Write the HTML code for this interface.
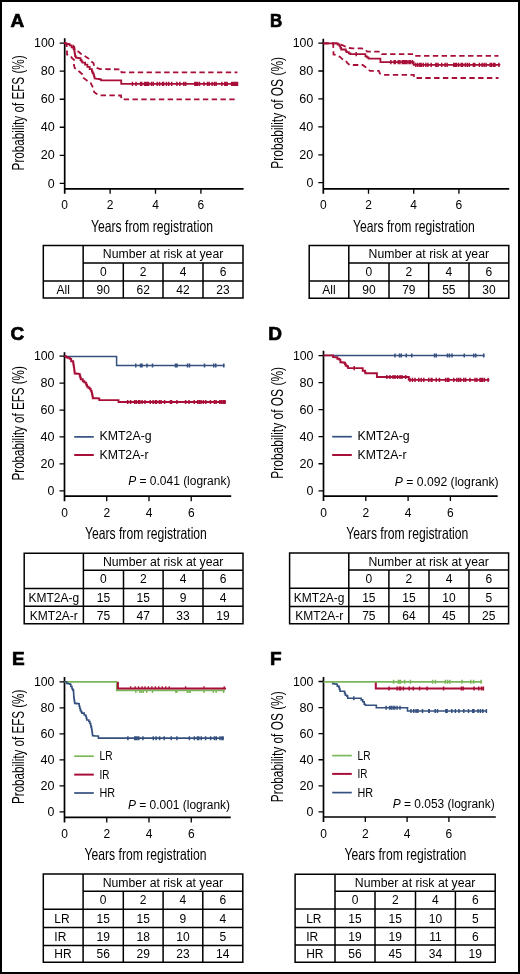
<!DOCTYPE html>
<html><head><meta charset="utf-8"><style>
html,body{margin:0;padding:0;background:#fff;width:520px;height:974px;overflow:hidden;position:relative;font-family:"Liberation Sans",sans-serif;}
</style></head><body>
<svg width="520" height="974" viewBox="0 0 520 974" style="position:absolute;left:0;top:0;will-change:transform">
<g font-family='"Liberation Sans", sans-serif'>
<rect x="1" y="1" width="518" height="972" fill="none" stroke="#000" stroke-width="2"/>
<text x="10.4" y="26.9" font-size="19" text-anchor="start" font-weight="bold" fill="#000" stroke="#000" stroke-width="0.7">A</text>
<text x="269.9" y="26.9" font-size="19" text-anchor="start" textLength="12.2" lengthAdjust="spacingAndGlyphs" font-weight="bold" fill="#000" stroke="#000" stroke-width="0.7">B</text>
<text x="10.4" y="339.9" font-size="19" text-anchor="start" font-weight="bold" fill="#000" stroke="#000" stroke-width="0.7">C</text>
<text x="268.2" y="339.6" font-size="19" text-anchor="start" font-weight="bold" fill="#000" stroke="#000" stroke-width="0.7">D</text>
<text x="11.9" y="664.5" font-size="19" text-anchor="start" font-weight="bold" fill="#000" stroke="#000" stroke-width="0.7">E</text>
<text x="270.0" y="664.5" font-size="19" text-anchor="start" font-weight="bold" fill="#000" stroke="#000" stroke-width="0.7">F</text>
<path d="M64.7,38.3V193.8M63.900000000000006,188.8H243.6" stroke="#000" stroke-width="1.7" fill="none"/>
<path d="M59.7,183.30H64.7M59.7,155.28H64.7M59.7,127.26H64.7M59.7,99.24H64.7M59.7,71.22H64.7M59.7,43.20H64.7M110.10,188.8V193.8M155.50,188.8V193.8M200.90,188.8V193.8" stroke="#000" stroke-width="1.3" fill="none"/>
<text x="54.7" y="187.50" font-size="12" text-anchor="end" textLength="6.9" lengthAdjust="spacingAndGlyphs" fill="#000">0</text>
<text x="54.7" y="159.48" font-size="12" text-anchor="end" textLength="14.0" lengthAdjust="spacingAndGlyphs" fill="#000">20</text>
<text x="54.7" y="131.46" font-size="12" text-anchor="end" textLength="14.0" lengthAdjust="spacingAndGlyphs" fill="#000">40</text>
<text x="54.7" y="103.44" font-size="12" text-anchor="end" textLength="14.0" lengthAdjust="spacingAndGlyphs" fill="#000">60</text>
<text x="54.7" y="75.42" font-size="12" text-anchor="end" textLength="14.0" lengthAdjust="spacingAndGlyphs" fill="#000">80</text>
<text x="54.7" y="47.40" font-size="12" text-anchor="end" textLength="20.6" lengthAdjust="spacingAndGlyphs" fill="#000">100</text>
<text x="64.70" y="209.30" font-size="12" text-anchor="middle" fill="#000">0</text>
<text x="110.10" y="209.30" font-size="12" text-anchor="middle" fill="#000">2</text>
<text x="155.50" y="209.30" font-size="12" text-anchor="middle" fill="#000">4</text>
<text x="200.90" y="209.30" font-size="12" text-anchor="middle" fill="#000">6</text>
<path d="M323.3,38.7V193.8M322.5,188.8H509.2" stroke="#000" stroke-width="1.7" fill="none"/>
<path d="M318.3,182.70H323.3M318.3,154.78H323.3M318.3,126.86H323.3M318.3,98.94H323.3M318.3,71.02H323.3M318.3,43.10H323.3M368.50,188.8V193.8M413.70,188.8V193.8M458.90,188.8V193.8" stroke="#000" stroke-width="1.3" fill="none"/>
<text x="313.3" y="186.90" font-size="12" text-anchor="end" textLength="6.9" lengthAdjust="spacingAndGlyphs" fill="#000">0</text>
<text x="313.3" y="158.98" font-size="12" text-anchor="end" textLength="14.0" lengthAdjust="spacingAndGlyphs" fill="#000">20</text>
<text x="313.3" y="131.06" font-size="12" text-anchor="end" textLength="14.0" lengthAdjust="spacingAndGlyphs" fill="#000">40</text>
<text x="313.3" y="103.14" font-size="12" text-anchor="end" textLength="14.0" lengthAdjust="spacingAndGlyphs" fill="#000">60</text>
<text x="313.3" y="75.22" font-size="12" text-anchor="end" textLength="14.0" lengthAdjust="spacingAndGlyphs" fill="#000">80</text>
<text x="313.3" y="47.30" font-size="12" text-anchor="end" textLength="20.6" lengthAdjust="spacingAndGlyphs" fill="#000">100</text>
<text x="323.30" y="209.30" font-size="12" text-anchor="middle" fill="#000">0</text>
<text x="368.50" y="209.30" font-size="12" text-anchor="middle" fill="#000">2</text>
<text x="413.70" y="209.30" font-size="12" text-anchor="middle" fill="#000">4</text>
<text x="458.90" y="209.30" font-size="12" text-anchor="middle" fill="#000">6</text>
<path d="M64.5,352.3V501.2M63.7,496.2H231.2" stroke="#000" stroke-width="1.7" fill="none"/>
<path d="M59.5,490.80H64.5M59.5,463.88H64.5M59.5,436.96H64.5M59.5,410.04H64.5M59.5,383.12H64.5M59.5,356.20H64.5M106.74,496.2V501.2M148.98,496.2V501.2M191.22,496.2V501.2" stroke="#000" stroke-width="1.3" fill="none"/>
<text x="54.5" y="495.00" font-size="12" text-anchor="end" textLength="6.9" lengthAdjust="spacingAndGlyphs" fill="#000">0</text>
<text x="54.5" y="468.08" font-size="12" text-anchor="end" textLength="14.0" lengthAdjust="spacingAndGlyphs" fill="#000">20</text>
<text x="54.5" y="441.16" font-size="12" text-anchor="end" textLength="14.0" lengthAdjust="spacingAndGlyphs" fill="#000">40</text>
<text x="54.5" y="414.24" font-size="12" text-anchor="end" textLength="14.0" lengthAdjust="spacingAndGlyphs" fill="#000">60</text>
<text x="54.5" y="387.32" font-size="12" text-anchor="end" textLength="14.0" lengthAdjust="spacingAndGlyphs" fill="#000">80</text>
<text x="54.5" y="360.40" font-size="12" text-anchor="end" textLength="20.6" lengthAdjust="spacingAndGlyphs" fill="#000">100</text>
<text x="64.50" y="516.70" font-size="12" text-anchor="middle" fill="#000">0</text>
<text x="106.74" y="516.70" font-size="12" text-anchor="middle" fill="#000">2</text>
<text x="148.98" y="516.70" font-size="12" text-anchor="middle" fill="#000">4</text>
<text x="191.22" y="516.70" font-size="12" text-anchor="middle" fill="#000">6</text>
<path d="M323.5,350.8V501.1M322.7,496.1H497.7" stroke="#000" stroke-width="1.7" fill="none"/>
<path d="M318.5,490.80H323.5M318.5,463.76H323.5M318.5,436.72H323.5M318.5,409.68H323.5M318.5,382.64H323.5M318.5,355.60H323.5M365.80,496.1V501.1M408.10,496.1V501.1M450.40,496.1V501.1" stroke="#000" stroke-width="1.3" fill="none"/>
<text x="313.5" y="495.00" font-size="12" text-anchor="end" textLength="6.9" lengthAdjust="spacingAndGlyphs" fill="#000">0</text>
<text x="313.5" y="467.96" font-size="12" text-anchor="end" textLength="14.0" lengthAdjust="spacingAndGlyphs" fill="#000">20</text>
<text x="313.5" y="440.92" font-size="12" text-anchor="end" textLength="14.0" lengthAdjust="spacingAndGlyphs" fill="#000">40</text>
<text x="313.5" y="413.88" font-size="12" text-anchor="end" textLength="14.0" lengthAdjust="spacingAndGlyphs" fill="#000">60</text>
<text x="313.5" y="386.84" font-size="12" text-anchor="end" textLength="14.0" lengthAdjust="spacingAndGlyphs" fill="#000">80</text>
<text x="313.5" y="359.80" font-size="12" text-anchor="end" textLength="20.6" lengthAdjust="spacingAndGlyphs" fill="#000">100</text>
<text x="323.50" y="516.60" font-size="12" text-anchor="middle" fill="#000">0</text>
<text x="365.80" y="516.60" font-size="12" text-anchor="middle" fill="#000">2</text>
<text x="408.10" y="516.60" font-size="12" text-anchor="middle" fill="#000">4</text>
<text x="450.40" y="516.60" font-size="12" text-anchor="middle" fill="#000">6</text>
<path d="M64.5,677V822.4M63.7,817.4H230.75" stroke="#000" stroke-width="1.7" fill="none"/>
<path d="M59.5,811.90H64.5M59.5,785.88H64.5M59.5,759.86H64.5M59.5,733.84H64.5M59.5,707.82H64.5M59.5,681.80H64.5M106.75,817.4V822.4M149.00,817.4V822.4M191.25,817.4V822.4" stroke="#000" stroke-width="1.3" fill="none"/>
<text x="54.5" y="816.10" font-size="12" text-anchor="end" textLength="6.9" lengthAdjust="spacingAndGlyphs" fill="#000">0</text>
<text x="54.5" y="790.08" font-size="12" text-anchor="end" textLength="14.0" lengthAdjust="spacingAndGlyphs" fill="#000">20</text>
<text x="54.5" y="764.06" font-size="12" text-anchor="end" textLength="14.0" lengthAdjust="spacingAndGlyphs" fill="#000">40</text>
<text x="54.5" y="738.04" font-size="12" text-anchor="end" textLength="14.0" lengthAdjust="spacingAndGlyphs" fill="#000">60</text>
<text x="54.5" y="712.02" font-size="12" text-anchor="end" textLength="14.0" lengthAdjust="spacingAndGlyphs" fill="#000">80</text>
<text x="54.5" y="686.00" font-size="12" text-anchor="end" textLength="20.6" lengthAdjust="spacingAndGlyphs" fill="#000">100</text>
<text x="64.50" y="837.90" font-size="12" text-anchor="middle" fill="#000">0</text>
<text x="106.75" y="837.90" font-size="12" text-anchor="middle" fill="#000">2</text>
<text x="149.00" y="837.90" font-size="12" text-anchor="middle" fill="#000">4</text>
<text x="191.25" y="837.90" font-size="12" text-anchor="middle" fill="#000">6</text>
<path d="M323.5,676.9V822.0M322.7,817.0H495.8" stroke="#000" stroke-width="1.7" fill="none"/>
<path d="M318.5,811.90H323.5M318.5,785.82H323.5M318.5,759.74H323.5M318.5,733.66H323.5M318.5,707.58H323.5M318.5,681.50H323.5M365.30,817.0V822.0M407.10,817.0V822.0M448.90,817.0V822.0" stroke="#000" stroke-width="1.3" fill="none"/>
<text x="313.5" y="816.10" font-size="12" text-anchor="end" textLength="6.9" lengthAdjust="spacingAndGlyphs" fill="#000">0</text>
<text x="313.5" y="790.02" font-size="12" text-anchor="end" textLength="14.0" lengthAdjust="spacingAndGlyphs" fill="#000">20</text>
<text x="313.5" y="763.94" font-size="12" text-anchor="end" textLength="14.0" lengthAdjust="spacingAndGlyphs" fill="#000">40</text>
<text x="313.5" y="737.86" font-size="12" text-anchor="end" textLength="14.0" lengthAdjust="spacingAndGlyphs" fill="#000">60</text>
<text x="313.5" y="711.78" font-size="12" text-anchor="end" textLength="14.0" lengthAdjust="spacingAndGlyphs" fill="#000">80</text>
<text x="313.5" y="685.70" font-size="12" text-anchor="end" textLength="20.6" lengthAdjust="spacingAndGlyphs" fill="#000">100</text>
<text x="323.50" y="837.50" font-size="12" text-anchor="middle" fill="#000">0</text>
<text x="365.30" y="837.50" font-size="12" text-anchor="middle" fill="#000">2</text>
<text x="407.10" y="837.50" font-size="12" text-anchor="middle" fill="#000">4</text>
<text x="448.90" y="837.50" font-size="12" text-anchor="middle" fill="#000">6</text>
<text transform="translate(24.2,112.9) rotate(-90)" x="0" y="0" font-size="16.5" text-anchor="middle" textLength="115" lengthAdjust="spacingAndGlyphs">Probability of EFS (%)</text>
<text transform="translate(283.0,112.85) rotate(-90)" x="0" y="0" font-size="16.5" text-anchor="middle" textLength="111.7" lengthAdjust="spacingAndGlyphs">Probability of OS (%)</text>
<text transform="translate(24.2,423.35) rotate(-90)" x="0" y="0" font-size="16.5" text-anchor="middle" textLength="114.3" lengthAdjust="spacingAndGlyphs">Probability of EFS (%)</text>
<text transform="translate(283.0,422.85) rotate(-90)" x="0" y="0" font-size="16.5" text-anchor="middle" textLength="111.7" lengthAdjust="spacingAndGlyphs">Probability of OS (%)</text>
<text transform="translate(24.2,746.85) rotate(-90)" x="0" y="0" font-size="16.5" text-anchor="middle" textLength="114.3" lengthAdjust="spacingAndGlyphs">Probability of EFS (%)</text>
<text transform="translate(283.0,746.8) rotate(-90)" x="0" y="0" font-size="16.5" text-anchor="middle" textLength="110.8" lengthAdjust="spacingAndGlyphs">Probability of OS (%)</text>
<text x="91.0" y="231.6" font-size="16.5" text-anchor="start" textLength="122" lengthAdjust="spacingAndGlyphs" fill="#000">Years from registration</text>
<text x="352.9" y="231.7" font-size="16.5" text-anchor="start" textLength="122" lengthAdjust="spacingAndGlyphs" fill="#000">Years from registration</text>
<text x="84.9" y="538.5" font-size="16.5" text-anchor="start" textLength="122" lengthAdjust="spacingAndGlyphs" fill="#000">Years from registration</text>
<text x="346.3" y="538.5" font-size="16.5" text-anchor="start" textLength="122" lengthAdjust="spacingAndGlyphs" fill="#000">Years from registration</text>
<text x="84.5" y="859.8" font-size="16.5" text-anchor="start" textLength="122" lengthAdjust="spacingAndGlyphs" fill="#000">Years from registration</text>
<text x="344.4" y="859.9" font-size="16.5" text-anchor="start" textLength="122" lengthAdjust="spacingAndGlyphs" fill="#000">Years from registration</text>
<path d="M64.3,43.1 H65.85 V43.65 H67.40 V44.20 H69.70 V45.40 H71.60 V47.30 H73.50 V49.20 H74.30 V50.80 H74.57 V52.60 H74.83 V54.40 H75.10 V56.20 H75.80 V57.70 H77.15 V57.90 H78.50 V58.10 H80.50 V60.00 H81.45 V61.35 H82.40 V62.70 H85.10 V64.60 H87.40 V66.90 H89.70 V69.20 H91.90 V71.50 H92.70 V73.05 H93.50 V74.60 H94.05 V76.55 H94.60 V78.50 L97.3,78.8 H98.85 V79.20 H100.40 V79.60 H101.20 V80.40 L121.2,80.4 L121.2,83.8 L237.5,83.8" fill="none" stroke="#a80f38" stroke-width="1.8"/>
<path d="M64.3,43.1 L68,44 L72,44.8 L74.3,47 L74.7,50.8 L78.5,51.5 L80.5,53.5 L83.5,55.4 L85.5,56.5 L88.9,58.8 L90.4,60.8 L93.5,63.1 L94.2,66.2 L97.3,68.1 L100.4,69.2 L121,69.3 L121.5,72.4 L237.5,72.4" fill="none" stroke="#a80f38" stroke-width="1.8" stroke-dasharray="5.4 3.4"/>
<path d="M64.3,43.1 L66.5,44 L67,49.2 L67,54.6 L70.1,55.4 L72.4,58.5 L73.9,59.6 L73.9,64.6 L74.7,68 L77.7,70 L79.2,71.5 L82.3,74.2 L82.7,77.3 L85.8,79.6 L87.7,81.2 L90.8,83.1 L91.9,85.4 L93.5,88.8 L94.2,92.3 L97.3,94.2 L100.4,95.4 L121,95.5 L121.5,99.3 L237.5,99.3" fill="none" stroke="#a80f38" stroke-width="1.8" stroke-dasharray="5.4 3.4"/>
<path d="M132.5,81.7V85.89999999999999M136,81.7V85.89999999999999M140.6,81.7V85.89999999999999M141.7,81.7V85.89999999999999M144.6,81.7V85.89999999999999M145.6,81.7V85.89999999999999M146.6,81.7V85.89999999999999M147.6,81.7V85.89999999999999M148.6,81.7V85.89999999999999M151.5,81.7V85.89999999999999M153.3,81.7V85.89999999999999M157.3,81.7V85.89999999999999M159.6,81.7V85.89999999999999M162.5,81.7V85.89999999999999M163.6,81.7V85.89999999999999M166.5,81.7V85.89999999999999M168.8,81.7V85.89999999999999M171.7,81.7V85.89999999999999M176.9,81.7V85.89999999999999M179.8,81.7V85.89999999999999M183.8,81.7V85.89999999999999M185.6,81.7V85.89999999999999M194.8,81.7V85.89999999999999M196,81.7V85.89999999999999M197.5,81.7V85.89999999999999M199.4,81.7V85.89999999999999M204,81.7V85.89999999999999M207.5,81.7V85.89999999999999M209.2,81.7V85.89999999999999M212.1,81.7V85.89999999999999M214.4,81.7V85.89999999999999M216.1,81.7V85.89999999999999M221.9,81.7V85.89999999999999M224.8,81.7V85.89999999999999M226,81.7V85.89999999999999M227.1,81.7V85.89999999999999M231.7,81.7V85.89999999999999M233,81.7V85.89999999999999M234.5,81.7V85.89999999999999M236,81.7V85.89999999999999M237.5,81.7V85.89999999999999" stroke="#a80f38" stroke-width="1.5" fill="none"/>
<path d="M323.3,43.4 L336.5,43.4 H337.70 V44.50 H339.60 V46.10 H340.40 V47.80 H341.20 V49.50 L345,49.5 H345.75 V50.85 H346.50 V52.20 H348.80 V53.40 H350.40 V54.20 L363.1,54.2 H365.40 V56.30 H366.95 V57.45 H368.50 V58.60 L380.4,58.6 L380.4,62.1 L413.7,62.1 L413.7,64.8 L500.3,64.8" fill="none" stroke="#a80f38" stroke-width="1.8"/>
<path d="M323.3,43.4 L336.5,43.4 L339.6,44.2 L343.5,45.7 L345.8,46.8 L349.6,48 L352.7,48.4 L362,48.4 L365.4,49.8 L367.3,51.7 L381,51.7 L382,54.2 L414,54.2 L414.5,55.9 L498.5,55.9" fill="none" stroke="#a80f38" stroke-width="1.8" stroke-dasharray="5.4 3.4"/>
<path d="M323.3,43.4 L333,43.4 L333.3,45.7 L333.5,54.5 L337.3,55.3 L340.4,57.2 L342,58.8 L346,60.7 L347,62.6 L349.6,65 L362.7,65 L365.4,67 L366.9,68.2 L370,70.9 L378.8,70.9 L380,73.6 L383.8,74.8 L413.8,74.8 L414.3,78 L498.5,78" fill="none" stroke="#a80f38" stroke-width="1.8" stroke-dasharray="5.4 3.4"/>
<path d="M356.2,52.1V56.300000000000004" stroke="#a80f38" stroke-width="1.5" fill="none"/>
<path d="M390.9,60.0V64.2M394.2,60.0V64.2M395.3,60.0V64.2M398.3,60.0V64.2M399.9,60.0V64.2M402.3,60.0V64.2M403.5,60.0V64.2M404.7,60.0V64.2M405.9,60.0V64.2M407,60.0V64.2M409,60.0V64.2M410.4,60.0V64.2M412.4,60.0V64.2" stroke="#a80f38" stroke-width="1.5" fill="none"/>
<path d="M415.8,62.699999999999996V66.89999999999999M417.8,62.699999999999996V66.89999999999999M419.8,62.699999999999996V66.89999999999999M421.1,62.699999999999996V66.89999999999999M423.2,62.699999999999996V66.89999999999999M425.9,62.699999999999996V66.89999999999999M427.9,62.699999999999996V66.89999999999999M431.2,62.699999999999996V66.89999999999999M435.9,62.699999999999996V66.89999999999999M438,62.699999999999996V66.89999999999999M436.3,62.699999999999996V66.89999999999999M441.7,62.699999999999996V66.89999999999999M445.1,62.699999999999996V66.89999999999999M447.1,62.699999999999996V66.89999999999999M453.8,62.699999999999996V66.89999999999999M455.2,62.699999999999996V66.89999999999999M456.5,62.699999999999996V66.89999999999999M458.6,62.699999999999996V66.89999999999999M461.2,62.699999999999996V66.89999999999999M462.6,62.699999999999996V66.89999999999999M465.3,62.699999999999996V66.89999999999999M467.3,62.699999999999996V66.89999999999999M469.3,62.699999999999996V66.89999999999999M473.4,62.699999999999996V66.89999999999999M474.7,62.699999999999996V66.89999999999999M479.4,62.699999999999996V66.89999999999999M482.1,62.699999999999996V66.89999999999999M484.1,62.699999999999996V66.89999999999999M486.1,62.699999999999996V66.89999999999999M490.2,62.699999999999996V66.89999999999999M491.5,62.699999999999996V66.89999999999999M493.5,62.699999999999996V66.89999999999999M494.9,62.699999999999996V66.89999999999999M498.9,62.699999999999996V66.89999999999999" stroke="#a80f38" stroke-width="1.5" fill="none"/>
<path d="M64.5,356.5 H116.6 V365.5 H224.5" fill="none" stroke="#34507f" stroke-width="1.5" stroke-linejoin="miter"/>
<path d="M135.75,363.5V367.5M140.5,363.5V367.5M142,363.5V367.5M147,363.5V367.5M152.5,363.5V367.5M175.5,363.5V367.5M177,363.5V367.5M187.5,363.5V367.5M189.5,363.5V367.5M204.5,363.5V367.5M213.75,363.5V367.5M215.75,363.5V367.5M223.75,363.5V367.5" stroke="#34507f" stroke-width="1.5" fill="none"/>
<path d="M64.5,356.2 H65.95 V357.00 H67.40 V357.80 H69.70 V358.90 H71.20 V361.20 H73.20 V363.50 H73.55 V365.45 H73.90 V367.40 H74.17 V369.43 H74.43 V371.47 H74.70 V373.50 H76.45 V373.70 H78.20 V373.90 H79.70 V375.80 H80.25 V377.55 H80.80 V379.30 H82.80 V381.20 H84.30 V382.35 H85.80 V383.50 H86.40 V385.05 H87.00 V386.60 H88.35 V387.75 H89.70 V388.90 H90.65 V390.65 H91.60 V392.40 H92.00 V394.33 H92.40 V396.27 H92.80 V398.20 H94.83 V398.30 H96.87 V398.40 H98.90 V398.50 H99.30 V400.10 L118.5,400.1 L118.5,402 L225.9,402" fill="none" stroke="#a80f38" stroke-width="1.9"/>
<path d="M127.7,399.9V404.1M130.6,399.9V404.1M134.6,399.9V404.1M136.3,399.9V404.1M138.6,399.9V404.1M139.8,399.9V404.1M142.1,399.9V404.1M145,399.9V404.1M150.2,399.9V404.1M153.1,399.9V404.1M155.4,399.9V404.1M156.5,399.9V404.1M159.4,399.9V404.1M161.1,399.9V404.1M164.6,399.9V404.1M170.4,399.9V404.1M171.5,399.9V404.1M176.9,399.9V404.1M185.6,399.9V404.1M189,399.9V404.1M194.2,399.9V404.1M197.7,399.9V404.1M199.4,399.9V404.1M201.1,399.9V404.1M203.4,399.9V404.1M205.8,399.9V404.1M210.4,399.9V404.1M214.4,399.9V404.1M216.1,399.9V404.1M219.6,399.9V404.1M221.3,399.9V404.1M223,399.9V404.1M224,399.9V404.1M225,399.9V404.1" stroke="#a80f38" stroke-width="1.5" fill="none"/>
<path d="M323.5,355.5 H484.5" fill="none" stroke="#34507f" stroke-width="1.5" stroke-linejoin="miter"/>
<path d="M354.2,366.0V370.20000000000005" stroke="#a80f38" stroke-width="1.5" fill="none"/>
<path d="M395,353.5V357.5M399.5,353.5V357.5M401.25,353.5V357.5M406.25,353.5V357.5M411.75,353.5V357.5M434.5,353.5V357.5M436.25,353.5V357.5M447.5,353.5V357.5M449.5,353.5V357.5M452,353.5V357.5M464.25,353.5V357.5M473.75,353.5V357.5M475.75,353.5V357.5M483.75,353.5V357.5" stroke="#34507f" stroke-width="1.5" fill="none"/>
<path d="M323.5,355.4 L333.1,355.4 L333.1,357.1 L336.2,357.3 H337.30 V358.80 H339.20 V359.60 H340.40 V362.30 H342.30 V362.50 H344.20 V362.70 H345.00 V364.25 H345.80 V365.80 H347.30 V366.50 H348.10 V368.10 L361.2,368.1 H362.70 V370.80 H365.00 V372.30 H365.40 V373.20 L376.9,373.2 L376.9,377 L408.75,377 L408.75,379.9 L489.4,379.9" fill="none" stroke="#a80f38" stroke-width="1.9"/>
<path d="M386.9,374.9V379.1M390,374.9V379.1M393.1,374.9V379.1M395,374.9V379.1M397.5,374.9V379.1M400,374.9V379.1M401.9,374.9V379.1M405.6,374.9V379.1" stroke="#a80f38" stroke-width="1.5" fill="none"/>
<path d="M410,377.79999999999995V382.0M412.5,377.79999999999995V382.0M415,377.79999999999995V382.0M418.75,377.79999999999995V382.0M421.25,377.79999999999995V382.0M423.75,377.79999999999995V382.0M428.75,377.79999999999995V382.0M431.25,377.79999999999995V382.0M431.9,377.79999999999995V382.0M436.25,377.79999999999995V382.0M439.4,377.79999999999995V382.0M445.6,377.79999999999995V382.0M447.5,377.79999999999995V382.0M448.75,377.79999999999995V382.0M453.75,377.79999999999995V382.0M456.9,377.79999999999995V382.0M458.75,377.79999999999995V382.0M460.6,377.79999999999995V382.0M463.75,377.79999999999995V382.0M465.6,377.79999999999995V382.0M470,377.79999999999995V382.0M475,377.79999999999995V382.0M476.9,377.79999999999995V382.0M480,377.79999999999995V382.0M481.25,377.79999999999995V382.0M482.5,377.79999999999995V382.0M484.4,377.79999999999995V382.0M488.1,377.79999999999995V382.0" stroke="#a80f38" stroke-width="1.5" fill="none"/>
<path d="M116.8,681.8 H116.8 V690.3 H225" fill="none" stroke="#7cb65a" stroke-width="1.8" stroke-linejoin="miter"/>
<path d="M135.8,690.4999999999999V692.9M139.8,690.4999999999999V692.9M141.5,690.4999999999999V692.9M143.3,690.4999999999999V692.9M146.7,690.4999999999999V692.9M152.5,690.4999999999999V692.9M175.8,690.4999999999999V692.9M176.9,690.4999999999999V692.9M187.3,690.4999999999999V692.9M189,690.4999999999999V692.9M190.2,690.4999999999999V692.9M204,690.4999999999999V692.9M213.3,690.4999999999999V692.9M216.1,690.4999999999999V692.9M223.6,690.4999999999999V692.9" stroke="#7cb65a" stroke-width="1.4" fill="none"/>
<path d="M117.9,681.8 H117.9 V688.5 H226" fill="none" stroke="#a80f38" stroke-width="2" stroke-linejoin="miter"/>
<path d="M130.6,686.3V688.3M135.2,686.3V688.3M138.6,686.3V688.3M142.1,686.3V688.3M145,686.3V688.3M148.4,686.3V688.3M151.9,686.3V688.3M155.4,686.3V688.3M158.8,686.3V688.3M162.3,686.3V688.3M165.7,686.3V688.3M169.2,686.3V688.3M185.6,686.3V688.3M204,686.3V688.3M224.2,686.3V688.3" stroke="#a80f38" stroke-width="1.3" fill="none"/>
<path d="M64.5,681.8 H117.2" fill="none" stroke="#7cb65a" stroke-width="1.8" stroke-linejoin="miter"/>
<path d="M64.5,681.8 L65.1,681.8 H66.60 V683.40 H68.15 V683.80 H69.70 V684.20 H70.80 V686.50 H72.00 V688.80 H72.75 V690.15 H73.50 V691.50 H73.60 V693.12 H73.70 V694.75 H73.80 V696.38 H73.90 V698.00 H74.17 V699.80 H74.43 V701.60 H74.70 V703.40 H76.60 V703.60 H78.50 V703.80 H79.20 V706.20 H79.75 V708.30 H80.30 V710.40 H81.05 V711.75 H81.80 V713.10 H84.20 V715.00 H85.70 V716.20 H86.25 V718.10 H86.80 V720.00 H88.80 V721.50 H89.90 V723.50 H90.70 V725.80 H91.10 V727.15 H91.50 V728.50 H91.78 V730.33 H92.05 V732.15 H92.32 V733.97 H92.60 V735.80 H94.40 V735.93 H96.20 V736.07 H98.00 V736.20 H98.40 V738.10 L223.75,738.1" fill="none" stroke="#34507f" stroke-width="1.6"/>
<path d="M127.9,736.3V740.3M134.8,736.3V740.3M136,736.3V740.3M137.1,736.3V740.3M138.8,736.3V740.3M142.9,736.3V740.3M153.3,736.3V740.3M156.1,736.3V740.3M159.6,736.3V740.3M164.2,736.3V740.3M171.25,736.3V740.3M176.9,736.3V740.3M189.4,736.3V740.3M194.4,736.3V740.3M197.5,736.3V740.3M198.75,736.3V740.3M201.25,736.3V740.3M205.6,736.3V740.3M210.6,736.3V740.3M214.4,736.3V740.3M216.25,736.3V740.3M220,736.3V740.3M221.9,736.3V740.3M223,736.3V740.3" stroke="#34507f" stroke-width="1.5" fill="none"/>
<path d="M332.7,682.3 L332.7,683.8 H334.45 V684.00 H336.20 V684.20 H337.30 V686.10 H338.80 V687.20 H339.40 V689.15 H340.00 V691.10 L343.8,691.2 H344.60 V693.40 H345.40 V695.30 H346.90 V696.10 H347.70 V698.20 L360.4,698.2 H361.20 V699.90 H362.70 V701.80 H364.20 V704.20 H365.40 V705.20 L376.3,705.2 L376.3,707.8 L407.5,707.8 L407.5,711 L487,711" fill="none" stroke="#34507f" stroke-width="1.6"/>
<path d="M353.8,696.2V700.2" stroke="#34507f" stroke-width="1.5" fill="none"/>
<path d="M386.1,705.8V709.8M389.6,705.8V709.8M391.3,705.8V709.8M393.1,705.8V709.8M394.8,705.8V709.8M397.1,705.8V709.8M400,705.8V709.8" stroke="#34507f" stroke-width="1.5" fill="none"/>
<path d="M411,709.0V713.0M413.8,709.0V713.0M416.1,709.0V713.0M417.9,709.0V713.0M422.5,709.0V713.0M428.8,709.0V713.0M429.2,709.0V713.0M435.2,709.0V713.0M437.5,709.0V713.0M445.9,709.0V713.0M447.1,709.0V713.0M451.8,709.0V713.0M455.4,709.0V713.0M459,709.0V713.0M463.8,709.0V713.0M468.5,709.0V713.0M472.7,709.0V713.0M473.9,709.0V713.0M478,709.0V713.0M480.4,709.0V713.0M482.8,709.0V713.0M486.4,709.0V713.0" stroke="#34507f" stroke-width="1.5" fill="none"/>
<path d="M375.8,681.7 H375.8 V688.6 H483.5" fill="none" stroke="#a80f38" stroke-width="2" stroke-linejoin="miter"/>
<path d="M389,686.6V690.6M397.1,686.6V690.6M399.4,686.6V690.6M400.6,686.6V690.6M403.4,686.6V690.6M409.2,686.6V690.6M413.3,686.6V690.6M419.6,686.6V690.6M427.1,686.6V690.6M443.6,686.6V690.6M461.4,686.6V690.6M463.2,686.6V690.6M474.1,686.6V690.6M478.7,686.6V690.6M481.6,686.6V690.6M483.4,686.6V690.6" stroke="#a80f38" stroke-width="1.5" fill="none"/>
<path d="M323.5,681.8 H482.2" fill="none" stroke="#7cb65a" stroke-width="1.8" stroke-linejoin="miter"/>
<path d="M393.6,679.8V683.8M398.3,679.8V683.8M399.4,679.8V683.8M400.6,679.8V683.8M404.6,679.8V683.8M410.4,679.8V683.8M432.6,679.8V683.8M435.5,679.8V683.8M445.3,679.8V683.8M447.6,679.8V683.8M449.9,679.8V683.8M462,679.8V683.8M470.7,679.8V683.8M473.6,679.8V683.8M481.1,679.8V683.8" stroke="#7cb65a" stroke-width="1.5" fill="none"/>
<path d="M43.3,245.6H243V297.9H43.3ZM83.15,245.6V297.9M83.15,263.1H243M123.3,263.1V297.9M163,263.1V297.9M203,263.1V297.9M43.3,280.9H243" stroke="#000" stroke-width="1.5" fill="none"/>
<text x="163.07" y="258.35" font-size="12" text-anchor="middle" textLength="120.5" lengthAdjust="spacingAndGlyphs" fill="#000">Number at risk at year</text>
<text x="103.22" y="276.00" font-size="12" text-anchor="middle" fill="#000">0</text>
<text x="143.15" y="276.00" font-size="12" text-anchor="middle" fill="#000">2</text>
<text x="183.00" y="276.00" font-size="12" text-anchor="middle" fill="#000">4</text>
<text x="223.00" y="276.00" font-size="12" text-anchor="middle" fill="#000">6</text>
<text x="63.23" y="293.90" font-size="12" text-anchor="middle" fill="#000">All</text>
<text x="103.22" y="293.90" font-size="12" text-anchor="middle" fill="#000">90</text>
<text x="143.15" y="293.90" font-size="12" text-anchor="middle" fill="#000">62</text>
<text x="183.00" y="293.90" font-size="12" text-anchor="middle" fill="#000">42</text>
<text x="223.00" y="293.90" font-size="12" text-anchor="middle" fill="#000">23</text>
<path d="M309.2,245.6H508.8V298.2H309.2ZM348.8,245.6V298.2M348.8,263.0H508.8M389,263.0V298.2M428.7,263.0V298.2M469,263.0V298.2M309.2,280.9H508.8" stroke="#000" stroke-width="1.5" fill="none"/>
<text x="428.80" y="258.30" font-size="12" text-anchor="middle" textLength="120.5" lengthAdjust="spacingAndGlyphs" fill="#000">Number at risk at year</text>
<text x="368.90" y="275.95" font-size="12" text-anchor="middle" fill="#000">0</text>
<text x="408.85" y="275.95" font-size="12" text-anchor="middle" fill="#000">2</text>
<text x="448.85" y="275.95" font-size="12" text-anchor="middle" fill="#000">4</text>
<text x="488.90" y="275.95" font-size="12" text-anchor="middle" fill="#000">6</text>
<text x="329.00" y="294.05" font-size="12" text-anchor="middle" fill="#000">All</text>
<text x="368.90" y="294.05" font-size="12" text-anchor="middle" fill="#000">90</text>
<text x="408.85" y="294.05" font-size="12" text-anchor="middle" fill="#000">79</text>
<text x="448.85" y="294.05" font-size="12" text-anchor="middle" fill="#000">55</text>
<text x="488.90" y="294.05" font-size="12" text-anchor="middle" fill="#000">30</text>
<path d="M24.2,553.3H243V623.7H24.2ZM83.4,553.3V623.7M83.4,570.2H243M123.5,570.2V623.7M163.1,570.2V623.7M203,570.2V623.7M24.2,588.4H243M24.2,606.3H243" stroke="#000" stroke-width="1.5" fill="none"/>
<text x="163.20" y="565.75" font-size="12" text-anchor="middle" textLength="120.5" lengthAdjust="spacingAndGlyphs" fill="#000">Number at risk at year</text>
<text x="103.45" y="583.30" font-size="12" text-anchor="middle" fill="#000">0</text>
<text x="143.30" y="583.30" font-size="12" text-anchor="middle" fill="#000">2</text>
<text x="183.05" y="583.30" font-size="12" text-anchor="middle" fill="#000">4</text>
<text x="223.00" y="583.30" font-size="12" text-anchor="middle" fill="#000">6</text>
<text x="53.80" y="601.85" font-size="12" text-anchor="middle" fill="#000">KMT2A-g</text>
<text x="103.45" y="601.85" font-size="12" text-anchor="middle" fill="#000">15</text>
<text x="143.30" y="601.85" font-size="12" text-anchor="middle" fill="#000">15</text>
<text x="183.05" y="601.85" font-size="12" text-anchor="middle" fill="#000">9</text>
<text x="223.00" y="601.85" font-size="12" text-anchor="middle" fill="#000">4</text>
<text x="53.80" y="619.50" font-size="12" text-anchor="middle" fill="#000">KMT2A-r</text>
<text x="103.45" y="619.50" font-size="12" text-anchor="middle" fill="#000">75</text>
<text x="143.30" y="619.50" font-size="12" text-anchor="middle" fill="#000">47</text>
<text x="183.05" y="619.50" font-size="12" text-anchor="middle" fill="#000">33</text>
<text x="223.00" y="619.50" font-size="12" text-anchor="middle" fill="#000">19</text>
<path d="M289.6,553.1H508.6V623.8H289.6ZM348.8,553.1V623.8M348.8,570.0H508.6M388.9,570.0V623.8M429,570.0V623.8M469,570.0V623.8M289.6,588.3H508.6M289.6,606.5H508.6" stroke="#000" stroke-width="1.5" fill="none"/>
<text x="428.70" y="565.55" font-size="12" text-anchor="middle" textLength="120.5" lengthAdjust="spacingAndGlyphs" fill="#000">Number at risk at year</text>
<text x="368.85" y="583.15" font-size="12" text-anchor="middle" fill="#000">0</text>
<text x="408.95" y="583.15" font-size="12" text-anchor="middle" fill="#000">2</text>
<text x="449.00" y="583.15" font-size="12" text-anchor="middle" fill="#000">4</text>
<text x="488.80" y="583.15" font-size="12" text-anchor="middle" fill="#000">6</text>
<text x="319.20" y="601.90" font-size="12" text-anchor="middle" fill="#000">KMT2A-g</text>
<text x="368.85" y="601.90" font-size="12" text-anchor="middle" fill="#000">15</text>
<text x="408.95" y="601.90" font-size="12" text-anchor="middle" fill="#000">15</text>
<text x="449.00" y="601.90" font-size="12" text-anchor="middle" fill="#000">10</text>
<text x="488.80" y="601.90" font-size="12" text-anchor="middle" fill="#000">5</text>
<text x="319.20" y="619.65" font-size="12" text-anchor="middle" fill="#000">KMT2A-r</text>
<text x="368.85" y="619.65" font-size="12" text-anchor="middle" fill="#000">75</text>
<text x="408.95" y="619.65" font-size="12" text-anchor="middle" fill="#000">64</text>
<text x="449.00" y="619.65" font-size="12" text-anchor="middle" fill="#000">45</text>
<text x="488.80" y="619.65" font-size="12" text-anchor="middle" fill="#000">25</text>
<path d="M43.3,874.1H242.8V962.3H43.3ZM83.1,874.1V962.3M83.1,891.2H242.8M123.3,891.2V962.3M163.1,891.2V962.3M202.8,891.2V962.3M43.3,909.2H242.8M43.3,927.4H242.8M43.3,945.4H242.8" stroke="#000" stroke-width="1.5" fill="none"/>
<text x="162.95" y="886.65" font-size="12" text-anchor="middle" textLength="120.5" lengthAdjust="spacingAndGlyphs" fill="#000">Number at risk at year</text>
<text x="103.20" y="904.20" font-size="12" text-anchor="middle" fill="#000">0</text>
<text x="143.20" y="904.20" font-size="12" text-anchor="middle" fill="#000">2</text>
<text x="182.95" y="904.20" font-size="12" text-anchor="middle" fill="#000">4</text>
<text x="222.80" y="904.20" font-size="12" text-anchor="middle" fill="#000">6</text>
<text x="54.3" y="922.80" font-size="12" text-anchor="start" fill="#000">LR</text>
<text x="103.20" y="922.80" font-size="12" text-anchor="middle" fill="#000">15</text>
<text x="143.20" y="922.80" font-size="12" text-anchor="middle" fill="#000">15</text>
<text x="182.95" y="922.80" font-size="12" text-anchor="middle" fill="#000">9</text>
<text x="222.80" y="922.80" font-size="12" text-anchor="middle" fill="#000">4</text>
<text x="54.3" y="940.90" font-size="12" text-anchor="start" fill="#000">IR</text>
<text x="103.20" y="940.90" font-size="12" text-anchor="middle" fill="#000">19</text>
<text x="143.20" y="940.90" font-size="12" text-anchor="middle" fill="#000">18</text>
<text x="182.95" y="940.90" font-size="12" text-anchor="middle" fill="#000">10</text>
<text x="222.80" y="940.90" font-size="12" text-anchor="middle" fill="#000">5</text>
<text x="54.3" y="958.35" font-size="12" text-anchor="start" fill="#000">HR</text>
<text x="103.20" y="958.35" font-size="12" text-anchor="middle" fill="#000">56</text>
<text x="143.20" y="958.35" font-size="12" text-anchor="middle" fill="#000">29</text>
<text x="182.95" y="958.35" font-size="12" text-anchor="middle" fill="#000">23</text>
<text x="222.80" y="958.35" font-size="12" text-anchor="middle" fill="#000">14</text>
<path d="M295.1,874.3H495.2V962.3H295.1ZM335,874.3V962.3M335,891.2H495.2M375,891.2V962.3M415.5,891.2V962.3M455.4,891.2V962.3M295.1,909H495.2M295.1,927.4H495.2M295.1,945H495.2" stroke="#000" stroke-width="1.5" fill="none"/>
<text x="415.10" y="886.75" font-size="12" text-anchor="middle" textLength="120.5" lengthAdjust="spacingAndGlyphs" fill="#000">Number at risk at year</text>
<text x="355.00" y="904.10" font-size="12" text-anchor="middle" fill="#000">0</text>
<text x="395.25" y="904.10" font-size="12" text-anchor="middle" fill="#000">2</text>
<text x="435.45" y="904.10" font-size="12" text-anchor="middle" fill="#000">4</text>
<text x="475.30" y="904.10" font-size="12" text-anchor="middle" fill="#000">6</text>
<text x="306.2" y="922.70" font-size="12" text-anchor="start" fill="#000">LR</text>
<text x="355.00" y="922.70" font-size="12" text-anchor="middle" fill="#000">15</text>
<text x="395.25" y="922.70" font-size="12" text-anchor="middle" fill="#000">15</text>
<text x="435.45" y="922.70" font-size="12" text-anchor="middle" fill="#000">10</text>
<text x="475.30" y="922.70" font-size="12" text-anchor="middle" fill="#000">5</text>
<text x="306.2" y="940.70" font-size="12" text-anchor="start" fill="#000">IR</text>
<text x="355.00" y="940.70" font-size="12" text-anchor="middle" fill="#000">19</text>
<text x="395.25" y="940.70" font-size="12" text-anchor="middle" fill="#000">19</text>
<text x="435.45" y="940.70" font-size="12" text-anchor="middle" fill="#000">11</text>
<text x="475.30" y="940.70" font-size="12" text-anchor="middle" fill="#000">6</text>
<text x="306.2" y="958.15" font-size="12" text-anchor="start" fill="#000">HR</text>
<text x="355.00" y="958.15" font-size="12" text-anchor="middle" fill="#000">56</text>
<text x="395.25" y="958.15" font-size="12" text-anchor="middle" fill="#000">45</text>
<text x="435.45" y="958.15" font-size="12" text-anchor="middle" fill="#000">34</text>
<text x="475.30" y="958.15" font-size="12" text-anchor="middle" fill="#000">19</text>
<path d="M74.2,436.9H93.80000000000001" stroke="#34507f" stroke-width="1.7"/>
<text x="99.5" y="440.40" font-size="12" text-anchor="start" textLength="52.2" lengthAdjust="spacingAndGlyphs" fill="#000">KMT2A-g</text>
<path d="M74.2,455.0H93.80000000000001" stroke="#a80f38" stroke-width="2"/>
<text x="99.5" y="458.50" font-size="12" text-anchor="start" textLength="49.0" lengthAdjust="spacingAndGlyphs" fill="#000">KMT2A-r</text>
<path d="M332.2,436.7H351.8" stroke="#34507f" stroke-width="1.7"/>
<text x="357.5" y="440.20" font-size="12" text-anchor="start" textLength="52.2" lengthAdjust="spacingAndGlyphs" fill="#000">KMT2A-g</text>
<path d="M332.2,455.0H351.8" stroke="#a80f38" stroke-width="2"/>
<text x="357.5" y="458.50" font-size="12" text-anchor="start" textLength="49.0" lengthAdjust="spacingAndGlyphs" fill="#000">KMT2A-r</text>
<path d="M74.2,756.2H93.80000000000001" stroke="#7cb65a" stroke-width="1.7"/>
<text x="99.5" y="760.20" font-size="12" text-anchor="start" textLength="13.0" lengthAdjust="spacingAndGlyphs" fill="#000">LR</text>
<path d="M74.2,774.6H93.80000000000001" stroke="#a80f38" stroke-width="2"/>
<text x="99.5" y="778.60" font-size="12" text-anchor="start" textLength="10.0" lengthAdjust="spacingAndGlyphs" fill="#000">IR</text>
<path d="M74.2,793.0H93.80000000000001" stroke="#34507f" stroke-width="1.7"/>
<text x="99.5" y="797.00" font-size="12" text-anchor="start" textLength="15.6" lengthAdjust="spacingAndGlyphs" fill="#000">HR</text>
<path d="M332.2,755.6H351.8" stroke="#7cb65a" stroke-width="1.7"/>
<text x="357.5" y="759.60" font-size="12" text-anchor="start" textLength="13.0" lengthAdjust="spacingAndGlyphs" fill="#000">LR</text>
<path d="M332.2,773.9H351.8" stroke="#a80f38" stroke-width="2"/>
<text x="357.5" y="777.90" font-size="12" text-anchor="start" textLength="10.0" lengthAdjust="spacingAndGlyphs" fill="#000">IR</text>
<path d="M332.2,792.6H351.8" stroke="#34507f" stroke-width="1.7"/>
<text x="357.5" y="796.60" font-size="12" text-anchor="start" textLength="15.6" lengthAdjust="spacingAndGlyphs" fill="#000">HR</text>
<text x="128.2" y="485.2" font-size="12" textLength="102.2" lengthAdjust="spacingAndGlyphs"><tspan font-style="italic">P</tspan> = 0.041 (logrank)</text>
<text x="394.8" y="486.0" font-size="12" textLength="103.8" lengthAdjust="spacingAndGlyphs"><tspan font-style="italic">P</tspan> = 0.092 (logrank)</text>
<text x="128.0" y="808.6" font-size="12" textLength="102.0" lengthAdjust="spacingAndGlyphs"><tspan font-style="italic">P</tspan> = 0.001 (logrank)</text>
<text x="392.7" y="807.6" font-size="12" textLength="102.0" lengthAdjust="spacingAndGlyphs"><tspan font-style="italic">P</tspan> = 0.053 (logrank)</text>
</g></svg>
</body></html>
